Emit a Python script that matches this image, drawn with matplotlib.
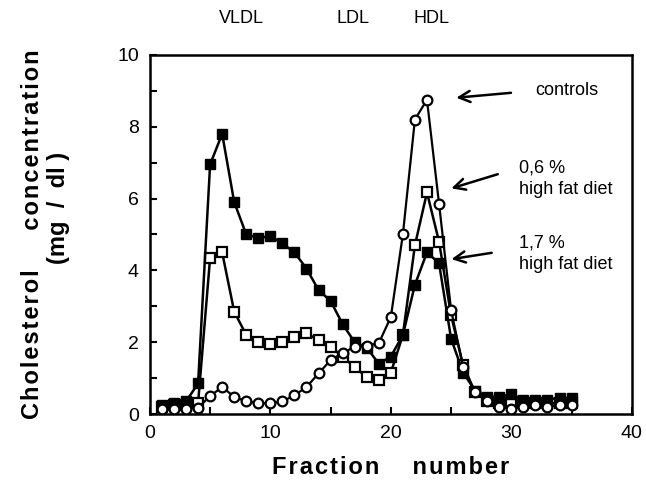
import matplotlib.pyplot as plt
from matplotlib.ticker import MultipleLocator

plt.rcParams['font.family'] = ['Liberation Sans', 'DejaVu Sans']

# fraction numbers
fractions = list(range(1, 36))

# controls (open circles)
controls = [0.15, 0.15, 0.15, 0.17, 0.5, 0.75, 0.48, 0.35, 0.3, 0.3,
            0.35, 0.52, 0.75, 1.13, 1.5, 1.7, 1.87, 1.9, 1.97, 2.7,
            5.0, 8.2, 8.75, 5.86, 2.9, 1.3, 0.6, 0.35, 0.2, 0.15,
            0.2, 0.25, 0.2, 0.25, 0.25]

# 0,6 % high fat diet (open squares)
diet_06 = [0.2, 0.25, 0.25, 0.3, 4.35, 4.5, 2.85, 2.2, 2.0, 1.95,
           2.0, 2.15, 2.25, 2.05, 1.87, 1.6, 1.3, 1.03, 0.95, 1.15,
           2.2, 4.7, 6.17, 4.8, 2.75, 1.36, 0.6, 0.35, 0.3, 0.3,
           0.3, 0.3, 0.3, 0.3, 0.3]

# 1,7 % high fat diet (filled squares)
diet_17 = [0.25, 0.3, 0.35, 0.85, 6.95, 7.8, 5.9, 5.0, 4.9, 4.95,
           4.75, 4.5, 4.05, 3.45, 3.15, 2.5, 2.0, 1.85, 1.4, 1.6,
           2.2, 3.6, 4.5, 4.2, 2.1, 1.15, 0.65, 0.48, 0.48, 0.55,
           0.4, 0.4, 0.4, 0.45, 0.45]


def spaced(s):
    # widen letter spacing a little, like the typeset original
    return "\u200a".join(s)


fig = plt.figure(figsize=(6.46, 4.92), dpi=100)
ax = fig.add_axes([0.232, 0.1585, 0.746, 0.73])

ax.plot(fractions, diet_17, color="black", lw=1.8, marker="s", ms=6.5,
        mfc="black", mec="black", zorder=3)
ax.plot(fractions, diet_06, color="black", lw=1.8, marker="s", ms=7.5,
        mfc="white", mec="black", mew=1.6, zorder=2)
ax.plot(fractions, controls, color="black", lw=1.6, marker="o", ms=7,
        mfc="white", mec="black", mew=1.6, zorder=4)

ax.set_xlim(0, 40)
ax.set_ylim(0, 10)
ax.xaxis.set_major_locator(MultipleLocator(10))
ax.xaxis.set_minor_locator(MultipleLocator(5))
ax.yaxis.set_major_locator(MultipleLocator(2))
ax.yaxis.set_minor_locator(MultipleLocator(1))
ax.tick_params(which="both", direction="in", length=5, width=1.5, labelsize=14, pad=8)
for s in ax.spines.values():
    s.set_linewidth(1.8)

ax.set_xlabel(spaced("Fraction") + "     " + spaced("number"),
              fontsize=17, fontweight="bold", labelpad=10)
ax.set_ylabel(spaced("Cholesterol") + "      " + spaced("concentration")
              + "\n        (mg  /  dl )",
              fontsize=17, fontweight="bold", labelpad=34, linespacing=1.15)

# lipoprotein class labels
for name, xpos in [("VLDL", 7.6), ("LDL", 16.9), ("HDL", 23.4)]:
    ax.text(xpos, 11.0, name, ha="center", va="center", fontsize=13,
            clip_on=False)

# arrows and series labels
arrow = dict(arrowstyle="->,head_length=0.8,head_width=0.4", lw=1.8, color="black")
ax.annotate("", xy=(25.2, 8.8), xytext=(30.2, 8.95), arrowprops=arrow)
ax.text(32.0, 9.0, "controls", fontsize=13, va="center")
ax.annotate("", xy=(24.8, 6.26), xytext=(29.1, 6.7), arrowprops=arrow)
ax.text(30.6, 6.55, "0,6 %\nhigh fat diet", fontsize=13, va="center",
        linespacing=1.35)
ax.annotate("", xy=(24.8, 4.3), xytext=(28.6, 4.5), arrowprops=arrow)
ax.text(30.6, 4.45, "1,7 %\nhigh fat diet", fontsize=13, va="center",
        linespacing=1.35)

plt.savefig("out.png", dpi=100)
